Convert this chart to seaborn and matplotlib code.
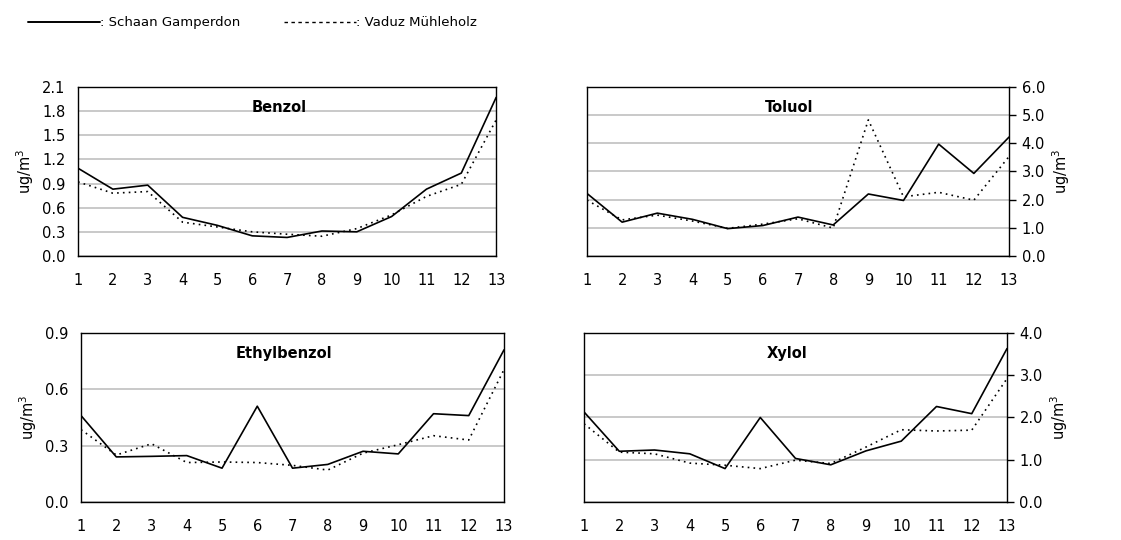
import numpy as np
import pandas as pd
import matplotlib
matplotlib.use("Agg")
import matplotlib.pyplot as plt
from matplotlib.lines import Line2D
from matplotlib.ticker import FormatStrFormatter
import seaborn as sns

sns.set_theme(style="white")
plt.rcParams["font.family"] = ["DejaVu Sans"]
plt.rcParams["text.color"] = "black"
plt.rcParams["axes.labelcolor"] = "black"
plt.rcParams["xtick.color"] = "black"
plt.rcParams["ytick.color"] = "black"

# ---- data ----
months = list(range(1, 14))

benzol_schaan = [1.09, 0.83, 0.88, 0.48, 0.38, 0.25, 0.23, 0.31, 0.30, 0.49, 0.83, 1.03, 1.97]
benzol_vaduz = [0.92, 0.78, 0.80, 0.42, 0.36, 0.30, 0.27, 0.245, 0.34, 0.51, 0.74, 0.89, 1.69]

toluol_schaan = [2.22, 1.2, 1.52, 1.3, 0.97, 1.08, 1.38, 1.1, 2.2, 1.97, 3.97, 2.93, 4.22]
toluol_vaduz = [1.98, 1.28, 1.45, 1.24, 0.98, 1.13, 1.32, 0.99, 4.83, 2.1, 2.26, 1.98, 3.53]

ethyl_schaan = [0.46, 0.24, 0.243, 0.247, 0.18, 0.51, 0.18, 0.20, 0.27, 0.256, 0.47, 0.46, 0.81]
ethyl_vaduz = [0.385, 0.25, 0.31, 0.21, 0.213, 0.21, 0.195, 0.17, 0.26, 0.305, 0.353, 0.33, 0.705]

xylol_schaan = [2.13, 1.2, 1.23, 1.14, 0.79, 2.0, 1.03, 0.88, 1.21, 1.44, 2.26, 2.09, 3.63]
xylol_vaduz = [1.85, 1.18, 1.14, 0.92, 0.87, 0.79, 0.99, 0.91, 1.3, 1.71, 1.68, 1.7, 2.92]

stations = ["Schaan Gamperdon", "Vaduz Mühleholz"]

panels = [
    ("Benzol", benzol_schaan, benzol_vaduz, 2.1, 0.3, "left"),
    ("Toluol", toluol_schaan, toluol_vaduz, 6.0, 1.0, "right"),
    ("Ethylbenzol", ethyl_schaan, ethyl_vaduz, 0.9, 0.3, "left"),
    ("Xylol", xylol_schaan, xylol_vaduz, 4.0, 1.0, "right"),
]

positions = [
    [0.0696, 0.526, 0.373, 0.313],
    [0.5236, 0.526, 0.3765, 0.313],
    [0.0723, 0.0704, 0.3773, 0.313],
    [0.521, 0.0704, 0.3773, 0.313],
]

styles = {stations[0]: "", stations[1]: (1, 2.5)}

fig = plt.figure(figsize=(11.21, 5.40), dpi=100)

for (name, s1, s2, ymax, step, side), pos in zip(panels, positions):
    ax = fig.add_axes(pos)
    df = pd.DataFrame({
        "month": months * 2,
        "value": s1 + s2,
        "station": [stations[0]] * 13 + [stations[1]] * 13,
    })
    sns.lineplot(data=df, x="month", y="value", hue="station", style="station",
                 palette=["black", "black"], dashes=styles, linewidth=1.2,
                 legend=False, ax=ax)
    ax.set_xlim(1, 13)
    ax.set_ylim(0, ymax)
    ax.set_xticks(months)
    ax.set_yticks(np.arange(0, ymax + step / 2, step))
    ax.yaxis.set_major_formatter(FormatStrFormatter("%.1f"))
    ax.grid(axis="y", color="#c0c0c0", linewidth=1.2)
    ax.set_axisbelow(True)
    for sp in ax.spines.values():
        sp.set_color("black")
        sp.set_linewidth(1.0)
    ax.tick_params(axis="both", which="both", direction="out", length=5,
                   width=1.0, color="black", labelsize=10.5, pad=4)
    ax.tick_params(axis="x", pad=7)
    ax.set_xlabel("")
    ax.set_ylabel("ug/m$^3$", fontsize=10.5)
    if side == "right":
        ax.yaxis.tick_right()
        ax.yaxis.set_label_position("right")
    ax.text(0.48, 0.88, name, transform=ax.transAxes, ha="center", va="center",
            fontsize=10.5, fontweight="bold")

handles = [
    Line2D([], [], color="black", linewidth=1.4),
    Line2D([], [], color="black", linewidth=1.0, linestyle=(0, (2.5, 2.5))),
]
fig.legend(handles, [": " + s for s in stations], loc="upper left",
           bbox_to_anchor=(0.014, 0.992), ncol=2, frameon=False,
           handlelength=5.5, handletextpad=0.0, columnspacing=3.3,
           fontsize=9.5)

fig.savefig("out.png", dpi=100)
